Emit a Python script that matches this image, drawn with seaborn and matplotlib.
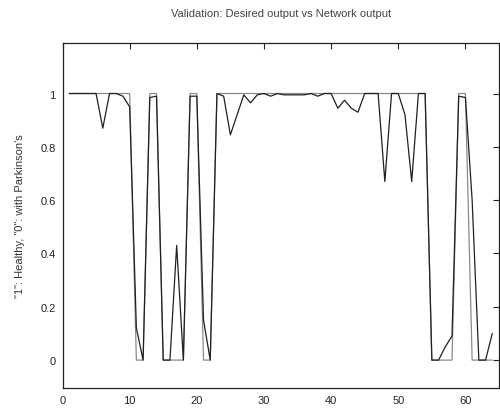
import numpy as np
import pandas as pd
import matplotlib
matplotlib.use("Agg")
import matplotlib.pyplot as plt
import seaborn as sns

sample = list(range(1, 65))
desired = ([1] * 10 + [0, 0] + [1, 1] + [0] * 4 + [1, 1] + [0, 0] + [1] * 32
           + [0] * 4 + [1, 1] + [0] * 4)
network = [1.0, 1.0, 1.0, 1.0, 1.0, 0.87, 1.0, 1.0, 0.99, 0.95,
           0.12, 0.0, 0.985, 0.99, 0.0, 0.0, 0.43, 0.0, 0.99, 0.99,
           0.15, 0.0, 1.0, 0.99, 0.845, 0.92, 0.995, 0.965, 0.995, 1.0,
           0.99, 1.0, 0.995, 0.995, 0.995, 0.995, 1.0, 0.99, 1.0, 1.0,
           0.945, 0.975, 0.945, 0.93, 1.0, 1.0, 1.0, 0.67, 1.0, 1.0,
           0.92, 0.67, 1.0, 1.0, 0.0, 0.0, 0.05, 0.09, 0.99, 0.985,
           0.6, 0.0, 0.0, 0.1]
xticks = [0, 10, 20, 30, 40, 50, 60]
yticks = [0, 0.2, 0.4, 0.6, 0.8, 1]
ytick_labels = ["0", "0.2", "0.4", "0.6", "0.8", "1"]

df = pd.DataFrame({"sample": sample, "desired": desired, "network": network})

sns.set_style("white")
plt.rcParams['font.family'] = ['Liberation Sans', 'DejaVu Sans']

fig = plt.figure(figsize=(5.0, 4.1), dpi=100)
ax = fig.add_axes([0.125, 0.051, 0.873, 0.842])

sns.lineplot(data=df, x="sample", y="desired", ax=ax, color="#8a8a8a", lw=0.9)
sns.lineplot(data=df, x="sample", y="network", ax=ax, color="#202020", lw=0.9)

ax.set_xlim(0, 65)
ax.set_ylim(-0.105, 1.19)
ax.set_xticks(xticks)
ax.set_yticks(yticks)
ax.set_yticklabels(ytick_labels)
ax.tick_params(direction="in", top=True, right=True, length=4, width=0.8,
               labelsize=8, colors="#222222", pad=5)
for s in ax.spines.values():
    s.set_visible(True)
    s.set_color("#222222")
    s.set_linewidth(0.9)
ax.set_xlabel("")
ax.set_ylabel('"1": Healthy, "0": with Parkinson\'s', fontsize=8, color="#333333", labelpad=11)
ax.set_title("Validation: Desired output vs Network output", fontsize=8, color="#444444", pad=19)

fig.savefig("out.png", dpi=100)
